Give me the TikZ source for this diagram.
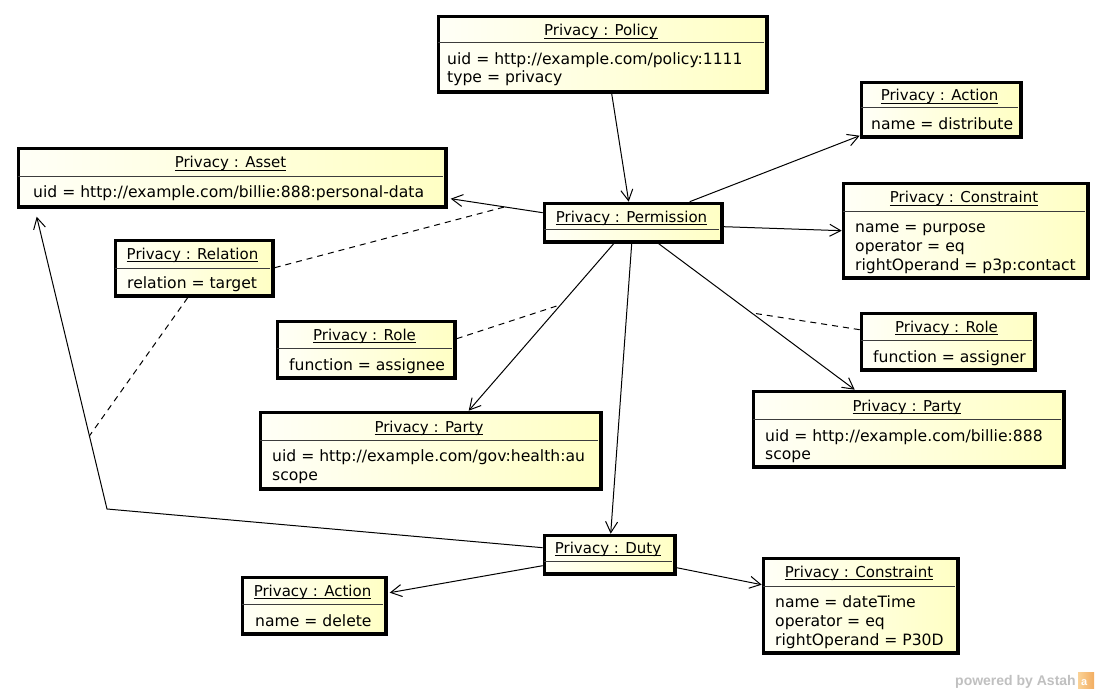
\documentclass[tikz,border=0pt]{standalone}
\usepackage{fontspec}
\setmainfont{DejaVu Sans}
\newfontfamily\logofont{Liberation Sans}
\usetikzlibrary{arrows.meta,calc}

\definecolor{objleft}{RGB}{255,255,247}
\definecolor{objright}{RGB}{255,255,196}
\definecolor{sepgray}{RGB}{60,60,60}
\definecolor{astahgray}{RGB}{192,192,192}
\definecolor{astahorange}{RGB}{242,172,96}
\definecolor{astahlight}{RGB}{250,210,150}

\tikzset{
  objbox/.style={draw=black, line width=3.4bp, left color=objleft, right color=objright,
    inner sep=0pt, outer sep=1.7bp, anchor=north west},
  sepline/.style={draw=sepgray, line width=1bp},
  titletext/.style={inner sep=0pt, anchor=base, font=\fontsize{15bp}{19bp}\selectfont},
  attrtext/.style={inner sep=0pt, anchor=base west, font=\fontsize{15.6bp}{19bp}\selectfont},
  assoc/.style={line width=1bp, -{Straight Barb[length=11bp,width=12bp]}},
  link/.style={line width=1bp, dash pattern=on 6bp off 5bp},
}

% underline drawn just under the baseline
\newcommand{\objul}[1]{\setbox0\hbox{#1}\rlap{\rule[-2.6bp]{\wd0}{0.9bp}}\box0}

% object box: name, x1, y1, x2, y2, separator y, title baseline, title
\newcommand{\umlobject}[8]{%
  \node[objbox, minimum width={(#4-#2-3.4)*1bp}, minimum height={(#5-#3-3.4)*1bp}] (#1) at ({#2+1.7},{#3+1.7}) {};
  \draw[sepline] ({#2+3},#6) -- ({#4-3},#6);
  \node[titletext] (#1-title) at ({(#2+#4)/2},#7) {\objul{#8}};
}
% attribute line: name, x, baseline, text
\newcommand{\umlattr}[4]{\node[attrtext] (#1) at (#2,#3) {#4};}

\begin{document}
\begin{tikzpicture}[x=1bp, y=-1bp]
\useasboundingbox (0,0) rectangle (1100,693);
\fill[white] (0,0) rectangle (1100,693);

% objects
\umlobject{policy}{435}{13}{767}{92}{43}{36}{Privacy : Policy}
\umlattr{policy-a1}{447}{64.5}{uid = http://example.com/policy:1111}
\umlattr{policy-a2}{447}{83}{type = privacy}

\umlobject{act1}{858}{79}{1021}{137}{108}{101}{Privacy : Action}
\umlattr{act1-a1}{871}{130}{name = distribute}

\umlobject{asset}{15}{145}{446}{207}{177}{168}{Privacy : Asset}
\umlattr{asset-a1}{33}{198}{uid = http://example.com/billie:888:personal-data}

\umlobject{perm}{541}{200}{722}{242}{229}{222}{Privacy : Permission}

\umlobject{cons1}{840}{180}{1088}{278}{211}{203}{Privacy : Constraint}
\umlattr{cons1-a1}{855}{232}{name = purpose}
\umlattr{cons1-a2}{855}{251}{operator = eq}
\umlattr{cons1-a3}{855}{270}{rightOperand = p3p:contact}

\umlobject{relation}{112}{237}{273}{296}{268}{259}{Privacy : Relation}
\umlattr{relation-a1}{127}{288}{relation = target}

\umlobject{role1}{274}{318}{455}{378}{348}{340}{Privacy : Role}
\umlattr{role1-a1}{289}{370}{function = assignee}

\umlobject{role2}{858}{310}{1035}{370}{340}{332}{Privacy : Role}
\umlattr{role2-a1}{873}{362}{function = assigner}

\umlobject{party1}{257}{409}{601}{489}{440}{432}{Privacy : Party}
\umlattr{party1-a1}{272}{461}{uid = http://example.com/gov:health:au}
\umlattr{party1-a2}{272}{480}{scope}

\umlobject{party2}{750}{388}{1064}{467}{419}{411}{Privacy : Party}
\umlattr{party2-a1}{765}{441}{uid = http://example.com/billie:888}
\umlattr{party2-a2}{765}{459}{scope}

\umlobject{duty}{541}{532}{675}{574}{561}{553}{Privacy : Duty}

\umlobject{act2}{239}{574}{386}{634}{604}{596}{Privacy : Action}
\umlattr{act2-a1}{255}{626}{name = delete}

\umlobject{cons2}{760}{555}{958}{653}{586}{577}{Privacy : Constraint}
\umlattr{cons2-a1}{775}{607}{name = dateTime}
\umlattr{cons2-a2}{775}{626}{operator = eq}
\umlattr{cons2-a3}{775}{645}{rightOperand = P30D}

% associations
\draw[assoc] ($(policy.south west)+(175,0)$) -- ($(perm.north west)+(86,0)$);
\draw[assoc] ($(perm.north west)+(147,0)$) -- ($(act1.south west)+(0,-3)$);
\draw[assoc] ($(perm.north west)+(0,11)$) -- coordinate[pos=0.413] (m1) ($(asset.north east)+(3,52)$);
\draw[assoc] ($(perm.north east)+(0,25)$) -- ($(cons1.north west)+(0,49)$);
\draw[assoc] ($(perm.south west)+(71,0)$) -- coordinate[pos=0.365] (m3) ($(party1.north west)+(210,0)$);
\draw[assoc] ($(perm.south west)+(116,0)$) -- coordinate[pos=0.474] (m4) ($(party2.north west)+(103,0)$);
\draw[assoc] ($(perm.south west)+(89,0)$) -- ($(duty.north west)+(68,0)$);
\draw[assoc] ($(duty.north west)+(0,14)$) -- (107,509) -- coordinate[pos=0.25] (m2) ($(asset.south west)+(20,8)$);
\draw[assoc] ($(duty.north west)+(0,32)$) -- ($(act2.north east)+(2,17)$);
\draw[assoc] ($(duty.north east)+(0,34)$) -- ($(cons2.north west)+(0,28)$);

% link attributes
\draw[link] ($(relation.north east)+(0,29)$) -- (m1);
\draw[link] ($(relation.south west)+(74,0)$) -- (m2);
\draw[link] ($(role1.north east)+(0,19)$) -- (m3);
\draw[link] ($(role2.north west)+(0,18)$) -- (m4);

% tool mark
\node[inner sep=0pt, anchor=base west, text=astahgray, font=\logofont\bfseries\fontsize{14bp}{16bp}\selectfont] (astah) at (955,685) {powered by Astah};
\node[inner sep=0pt, minimum size=16bp, anchor=west, left color=astahlight, right color=astahorange] (astahlogo) at ($(astah.east)+(2,-1)$) {};
\node[inner sep=0pt, text=white, font=\logofont\bfseries\fontsize{11bp}{11bp}\selectfont] at ($(astahlogo.center)+(-2,2)$) {a};
\end{tikzpicture}
\end{document}
